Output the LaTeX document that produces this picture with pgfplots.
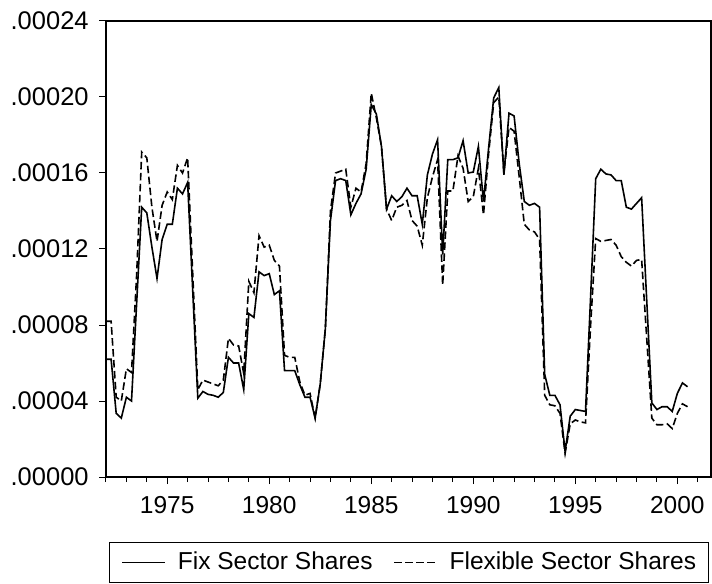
\documentclass[border=0pt]{standalone}
\usepackage{fontspec}
\setmainfont{Liberation Sans}
\usepackage{pgfplots}
\usepackage{pgfplotstable}
\pgfplotsset{compat=1.18}
\pgfplotstableread{
t fix flex
1972.00 6.2 8.2
1972.25 6.2 8.2
1972.50 3.35 4.2
1972.75 3.1 4.0
1973.00 4.2 5.7
1973.25 4.0 5.5
1973.50 9.1 10.6
1973.75 14.2 17.1
1974.00 13.9 16.8
1974.25 12.1 14.2
1974.50 10.45 12.4
1974.75 12.5 14.3
1975.00 13.3 15.0
1975.25 13.3 14.6
1975.50 15.2 16.4
1975.75 14.9 16.0
1976.00 15.5 16.8
1976.25 9.8 10.7
1976.50 4.15 4.6
1976.75 4.5 5.1
1977.00 4.35 5.0
1977.25 4.3 4.9
1977.50 4.2 4.8
1977.75 4.45 5.1
1978.00 6.3 7.3
1978.25 6.0 6.95
1978.50 6.0 6.9
1978.75 4.6 5.45
1979.00 8.6 10.3
1979.25 8.4 9.7
1979.50 10.8 12.7
1979.75 10.6 12.1
1980.00 10.7 12.2
1980.25 9.6 11.4
1980.50 9.8 11.1
1980.75 5.6 6.4
1981.00 5.6 6.3
1981.25 5.6 6.3
1981.50 4.85 5.0
1981.75 4.2 4.3
1982.00 4.2 4.4
1982.25 3.1 3.1
1982.50 4.9 4.9
1982.75 7.8 7.8
1983.00 13.5 14.0
1983.25 15.6 16.0
1983.50 15.7 16.1
1983.75 15.6 16.2
1984.00 13.8 14.2
1984.25 14.4 15.2
1984.50 14.9 15.0
1984.75 16.2 16.5
1985.00 19.6 20.2
1985.25 19.1 18.9
1985.50 17.4 17.4
1985.75 14.1 14.1
1986.00 14.8 13.5
1986.25 14.5 14.2
1986.50 14.75 14.3
1986.75 15.2 14.55
1987.00 14.8 13.5
1987.25 14.8 13.2
1987.50 13.3 12.2
1987.75 15.9 14.7
1988.00 17.0 15.8
1988.25 17.75 16.7
1988.50 11.7 10.1
1988.75 16.7 15.05
1989.00 16.7 15.05
1989.25 16.8 16.9
1989.50 17.7 16.25
1989.75 16.0 14.5
1990.00 16.05 14.75
1990.25 17.4 16.25
1990.50 14.5 13.8
1990.75 17.3 17.0
1991.00 19.95 19.7
1991.25 20.5 20.0
1991.50 15.9 16.0
1991.75 19.15 18.4
1992.00 19.0 18.2
1992.25 16.5 15.8
1992.50 14.5 13.3
1992.75 14.3 13.0
1993.00 14.4 12.9
1993.25 14.2 12.5
1993.50 5.4 4.3
1993.75 4.3 3.8
1994.00 4.3 3.75
1994.25 3.8 3.35
1994.50 1.35 1.25
1994.75 3.2 2.8
1995.00 3.55 3.0
1995.25 3.5 2.9
1995.50 3.45 2.85
1995.75 9.5 8.0
1996.00 15.7 12.55
1996.25 16.2 12.4
1996.50 15.95 12.45
1996.75 15.9 12.5
1997.00 15.6 12.2
1997.25 15.6 11.6
1997.50 14.2 11.3
1997.75 14.1 11.1
1998.00 14.4 11.4
1998.25 14.7 11.45
1998.50 9.3 7.3
1998.75 3.9 3.1
1999.00 3.55 2.75
1999.25 3.7 2.75
1999.50 3.7 2.8
1999.75 3.45 2.55
2000.00 4.4 3.35
2000.25 4.95 3.85
2000.50 4.75 3.7
}\data
\begin{document}
\fontsize{24.5bp}{29bp}\selectfont
\begin{tikzpicture}
\path[use as bounding box] (-106bp,-107bp) rectangle (606bp,477bp);
\begin{axis}[
  at={(0,0)}, anchor=south west,
  scale only axis, width=605bp, height=456bp,
  xmin=1972, xmax=2001.65, ymin=0, ymax=24,
  axis line style={line width=1.1bp},
  xtick={1975,1980,1985,1990,1995,2000},
  xticklabels={1975,1980,1985,1990,1995,2000},
  minor xtick={1972,1973,...,2001},
  ytick={0,4,8,12,16,20,24},
  yticklabels={.00000,.00004,.00008,.00012,.00016,.00020,.00024},
  tick align=outside, ytick pos=left, xtick pos=bottom,
  major tick length=7bp, minor tick length=5bp,
  tick style={line width=1bp, black},
  ticklabel style={font=\fontsize{24.5bp}{29bp}\selectfont},
  xticklabel style={yshift=-4bp},
  yticklabel style={xshift=-2bp, font=\fontsize{25.5bp}{29bp}\selectfont},
  legend columns=2,
  legend cell align=left,
  legend style={at={(0.5008,-0.1425)}, anchor=north, draw=black, line width=1bp,
    inner xsep=12bp, inner ysep=7bp,
    nodes={inner xsep=0pt, inner ysep=2.5bp},
    font=\fontsize{24.5bp}{29bp}\selectfont,
    column sep=12bp,
    /tikz/every even column/.append style={column sep=21bp}},
  legend image code/.code={\draw[#1, line width=1bp] (0bp,0bp) -- (43bp,0bp);},
]
\addplot[black, line width=1.6bp] table[x=t, y=fix] {\data};
\addlegendentry{Fix Sector Shares}
\addplot[black, line width=1.6bp, dash pattern=on 7.5bp off 3.5bp] table[x=t, y=flex] {\data};
\addlegendentry{Flexible Sector Shares}
\end{axis}
\end{tikzpicture}
\end{document}
